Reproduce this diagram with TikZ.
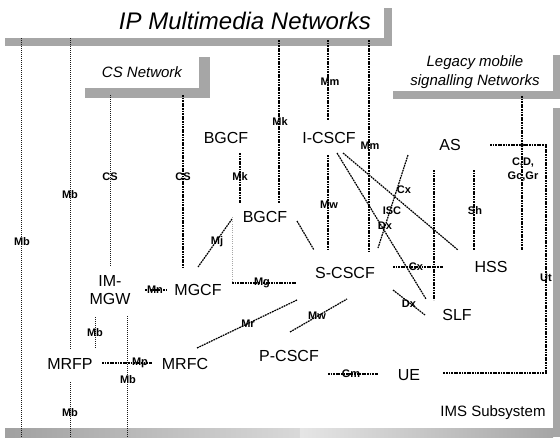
\documentclass[tikz,border=0pt]{standalone}
\usepackage{fontspec}
\setmainfont{Liberation Sans}
\begin{document}
\begin{tikzpicture}[x=1pt,y=-1pt,
  ent/.style={font=\fontsize{16}{18}\selectfont, inner sep=1pt, align=center},
  lbl/.style={font=\fontsize{11}{12}\selectfont\bfseries, inner sep=0pt},
  area/.style={font=\fontsize{15}{19}\selectfont\itshape, align=center, inner sep=0pt},
  thinlink/.style={draw=black!90, line width=0.7pt, dash pattern=on 1.4pt off 0.6pt},
  link/.style={draw=black, line width=1.2pt, dash pattern=on 1.8pt off 0.8pt},
  faint/.style={draw=black!35, line width=0.5pt, dash pattern=on 0.6pt off 1.6pt},
  shade/.style={fill=black!35, draw=none}]
\useasboundingbox (0,0) rectangle (560,439);

% ---- shadows of the network areas
\fill[shade] (5,38) rectangle (392,46);
\fill[shade] (384,8) rectangle (392,46);
\fill[shade] (85,88) rectangle (210,98);
\fill[shade] (199,57) rectangle (210,98);
\fill[shade] (393,91) rectangle (560,99);
\fill[shade] (553,55) rectangle (560,99);
\fill[shade] (553,108) rectangle (560,437);
\fill[left color=black!37, right color=black!15] (5,428) rectangle (300,437);
\fill[left color=black!10, right color=black!35] (300,428) rectangle (553,437);

% ---- area titles
\node[area, font=\fontsize{24}{26}\selectfont\itshape] (ipmm) at (245,21) {IP Multimedia Networks};
\node[area] (csnet) at (142,72) {CS Network};
\node[area] (legacy) at (475,72) {Legacy mobile\\signalling Networks};
\node[area, font=\fontsize{15}{17}\selectfont] (ims) at (493,413) {IMS Subsystem};

% ---- functional entities
\node[ent] (bgcfA) at (226,138) {BGCF};
\node[ent] (icscf) at (329,138) {I-CSCF};
\node[ent] (as)    at (450,145) {AS};
\node[ent] (bgcfB) at (265,217) {BGCF};
\node[ent] (immgw) at (110,290) {IM-\\MGW};
\node[ent] (mgcf)  at (198,290) {MGCF};
\node[ent] (scscf) at (345,273) {S-CSCF};
\node[ent] (hss)   at (491,267) {HSS};
\node[ent] (slf)   at (457,315) {SLF};
\node[ent] (mrfp)  at (70,364)  {MRFP};
\node[ent] (mrfc)  at (185,364) {MRFC};
\node[ent] (pcscf) at (289,356) {P-CSCF};
\node[ent] (ue)    at (409,375) {UE};

% ---- connector end points
\coordinate (a1) at (21,38);   \coordinate (a2) at (21,437);
\coordinate (b1) at (70,38);   \coordinate (b2) at (70,349);
\coordinate (b3) at (70,382);  \coordinate (b4) at (70,437);
\coordinate (c1) at (110,95);  \coordinate (c2) at (110,266);
\coordinate (d1) at (183,95);  \coordinate (d2) at (183,267);
\coordinate (e1) at (240,153); \coordinate (e2) at (240,203);
\coordinate (f1) at (279,40);  \coordinate (f2) at (279,203);
\coordinate (g1) at (328,40);  \coordinate (g2) at (328,120);
\coordinate (h1) at (328,155); \coordinate (h2) at (328,250);
\coordinate (i1) at (369,40);  \coordinate (i2) at (369,252);
\coordinate (j1) at (337,153); \coordinate (j2) at (426,299);
\coordinate (k1) at (343,153); \coordinate (k2) at (458,250);
\coordinate (l1) at (408,155); \coordinate (l2) at (378,248);
\coordinate (m1) at (393,267); \coordinate (m2) at (443,267);
\coordinate (n1) at (434,170); \coordinate (n2) at (434,300);
\coordinate (o1) at (474,170); \coordinate (o2) at (474,250);
\coordinate (p1) at (522,96);  \coordinate (p2) at (522,250);
\coordinate (q1) at (490,145); \coordinate (q2) at (546,145);
\coordinate (q3) at (546,373); \coordinate (q4) at (443,373);
\coordinate (r1) at (393,290); \coordinate (r2) at (425,315);
\coordinate (s1) at (297,221); \coordinate (s2) at (314,250);
\coordinate (u1) at (232,219); \coordinate (u2) at (198,267);
\coordinate (v1) at (232,283); \coordinate (v2) at (296,283);
\coordinate (w1) at (145,290); \coordinate (w2) at (166,290);
\coordinate (x1) at (197,348); \coordinate (x2) at (297,300);
\coordinate (y1) at (290,332); \coordinate (y2) at (347,299);
\coordinate (z1) at (95,317);  \coordinate (z2) at (95,348);
\coordinate (mp1) at (102,363); \coordinate (mp2) at (152,363);
\coordinate (mb1) at (127,316); \coordinate (mb2) at (127,437);
\coordinate (gm1) at (328,374); \coordinate (gm2) at (378,374);
\coordinate (fv1) at (232,217);

% ---- reference points
\draw[thinlink] (a1) -- (a2);
\draw[thinlink] (b1) -- (b2);
\draw[thinlink] (b3) -- (b4);
\draw[thinlink] (c1) -- (c2);
\draw[link] (d1) -- (d2);
\draw[link] (e1) -- (e2);
\draw[link] (f1) -- (f2);
\draw[link] (g1) -- (g2);
\draw[link] (h1) -- (h2);
\draw[link] (i1) -- (i2);
\draw[link] (j1) -- (j2);
\draw[link] (k1) -- (k2);
\draw[link] (l1) -- (l2);
\draw[link] (m1) -- (m2);
\draw[link] (n1) -- (n2);
\draw[link] (o1) -- (o2);
\draw[link] (p1) -- (p2);
\draw[link] (q1) -- (q2) -- (q3) -- (q4);
\draw[link] (r1) -- (r2);
\draw[link] (s1) -- (s2);
\draw[link] (u1) -- (u2);
\draw[link] (v1) -- (v2);
\draw[faint] (fv1) -- (v1);
\draw[link] (w1) -- (w2);
\draw[link] (x1) -- (x2);
\draw[link] (y1) -- (y2);
\draw[thinlink] (z1) -- (z2);
\draw[link] (mp1) -- (mp2);
\draw[thinlink] (mb1) -- (mb2);
\draw[link] (gm1) -- (gm2);
\draw[black, line width=0.8pt] (522,145) circle (1.8);

% ---- reference point labels
\node[lbl] (lmb1) at (22,242)  {Mb};
\node[lbl] (lmb2) at (70,195)  {Mb};
\node[lbl] (lmb3) at (70,413)  {Mb};
\node[lbl] (lcs1) at (110,177) {CS};
\node[lbl] (lcs2) at (183,177) {CS};
\node[lbl] (lmk1) at (240,177) {Mk};
\node[lbl] (lmk2) at (280,122) {Mk};
\node[lbl] (lmm1) at (330,82)  {Mm};
\node[lbl] (lmm2) at (370,146) {Mm};
\node[lbl] (lmw1) at (329,205) {Mw};
\node[lbl] (lcx1) at (404,190) {Cx};
\node[lbl] (lisc) at (392,211) {ISC};
\node[lbl] (lds)  at (385,226) {Dx};
\node[lbl] (lcx2) at (416,267) {Cx};
\node[lbl] (ldx)  at (409,304) {Dx};
\node[lbl] (lsh)  at (475,211) {Sh};
\node[lbl, align=center, font=\fontsize{11}{14}\selectfont\bfseries] (lcd) at (523,170) {C,D,\\Gc,Gr};
\node[lbl] (lut)  at (546,278) {Ut};
\node[lbl] (lmj)  at (217,242) {Mj};
\node[lbl] (lmg)  at (262,283) {Mg};
\node[lbl] (lmn)  at (155,290) {Mn};
\node[lbl] (lmr)  at (248,324) {Mr};
\node[lbl] (lmw2) at (317,316) {Mw};
\node[lbl] (lmb4) at (95,333)  {Mb};
\node[lbl] (lmp)  at (140,363) {Mp};
\node[lbl] (lmb5) at (128,380) {Mb};
\node[lbl] (lgm)  at (351,374) {Gm};
\end{tikzpicture}
\end{document}
